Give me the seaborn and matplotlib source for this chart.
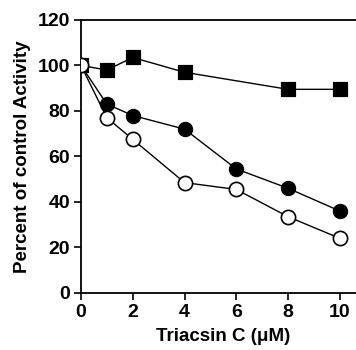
import matplotlib
matplotlib.use("Agg")
import matplotlib.pyplot as plt
import seaborn as sns
import pandas as pd

# data
conc = [0, 1, 2, 4, 6, 8, 10]
squares_x = [0, 1, 2, 4, 8, 10]
squares_y = [100, 98, 103.5, 97, 89.5, 89.5]
filled_y = [100, 83, 78, 72, 54.5, 46, 36]
open_y = [100, 77, 67.5, 48.5, 45.5, 33.5, 24]

sns.set_style("ticks")
plt.rcParams['font.family'] = ['Liberation Sans', 'DejaVu Sans']
plt.rcParams['font.weight'] = 'bold'
plt.rcParams['text.color'] = 'black'
plt.rcParams['axes.labelcolor'] = 'black'
plt.rcParams['xtick.color'] = 'black'
plt.rcParams['ytick.color'] = 'black'

fig = plt.figure(figsize=(3.56, 3.5), dpi=100)
ax = fig.add_axes([0.2275, 0.163, 0.80, 0.78])

df_sq = pd.DataFrame({"x": squares_x, "y": squares_y})
df_f = pd.DataFrame({"x": conc, "y": filled_y})
df_o = pd.DataFrame({"x": conc, "y": open_y})

ax.plot(df_sq.x, df_sq.y, color="black", lw=1, zorder=1)
ax.plot(df_f.x, df_f.y, color="black", lw=1, zorder=1)
ax.plot(df_o.x, df_o.y, color="black", lw=1, zorder=1)
sns.scatterplot(data=df_sq, x="x", y="y", marker="s", s=115, color="black",
                edgecolor="black", ax=ax, zorder=2)
sns.scatterplot(data=df_f, x="x", y="y", marker="o", s=105, color="black",
                edgecolor="black", ax=ax, zorder=3)
sns.scatterplot(data=df_o, x="x", y="y", marker="o", s=105, color="white",
                edgecolor="black", linewidth=1.2, ax=ax, zorder=4)

ax.set_xlim(0, 11)
ax.set_ylim(0, 120)
ax.set_xticks([0, 2, 4, 6, 8, 10])
ax.set_yticks([0, 20, 40, 60, 80, 100, 120])
ax.set_xlabel("Triacsin C (μM)", fontsize=13.5, fontweight="bold", labelpad=5)
ax.set_ylabel("Percent of control Activity", fontsize=13.5, fontweight="bold", labelpad=5)
ax.tick_params(labelsize=14, width=1.2, length=5, direction="out", pad=3)
for s in ax.spines.values():
    s.set_linewidth(1.3)
    s.set_color("black")

fig.savefig("out.png", dpi=100)
